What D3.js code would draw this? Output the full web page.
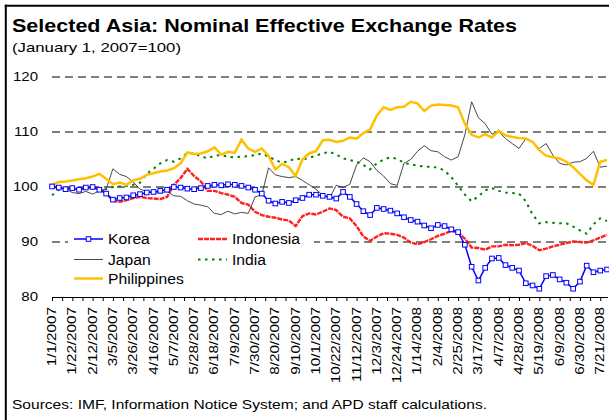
<!DOCTYPE html>
<html><head><meta charset="utf-8">
<script src="https://cdn.jsdelivr.net/npm/d3@7"></script>
<style>
body{margin:0;background:#fff}
svg{display:block}
text{font-family:"Liberation Sans",Arial,Helvetica,sans-serif;fill:#000}
</style>
</head><body>
<svg id="c" width="609" height="420"></svg>
<script>
// ---- data (weekly readings, week 0 = 1/1/2007) ----
const tickLabels = ["1/1/2007","1/22/2007","2/12/2007","3/5/2007","3/26/2007","4/16/2007","5/7/2007","5/28/2007","6/18/2007","7/9/2007","7/30/2007","8/20/2007","9/10/2007","10/1/2007","10/22/2007","11/12/2007","12/3/2007","12/24/2007","1/14/2008","2/4/2008","2/25/2008","3/17/2008","4/7/2008","4/28/2008","5/19/2008","6/9/2008","6/30/2008","7/21/2008"];
const yTicks = [80, 90, 100, 110, 120];

const korea = [100.1,99.9,99.6,99.8,99.5,99.9,100.0,99.5,98.8,97.7,
98.0,98.1,98.5,98.7,99.0,99.1,99.3,99.5,100.0,99.9,
99.7,99.6,99.8,100.2,100.4,100.3,100.5,100.4,100.2,99.9,
99.5,98.8,97.5,97.0,97.3,97.1,97.6,98.0,98.6,98.6,
98.4,98.2,97.9,99.1,98.2,96.9,95.6,94.9,96.2,96.0,
95.7,95.2,94.5,94.0,93.7,93.0,92.5,93.1,92.9,92.3,
91.8,89.5,85.5,83.0,85.3,87.0,87.1,85.8,85.3,84.8,
82.5,82.1,81.5,83.8,84.0,83.2,82.6,81.5,82.8,85.7,
84.5,84.8,85.0];

const indonesia = [100.1,99.9,99.8,99.5,99.6,99.8,100.0,99.7,98.9,97.5,
97.3,97.6,98.0,98.2,98.0,97.9,97.8,98.2,100.4,101.6,
103.3,102.0,101.0,99.3,99.3,98.9,98.6,98.2,97.1,96.8,
95.5,94.9,94.6,94.4,94.1,93.9,92.9,94.7,95.2,95.0,
95.5,96.1,95.8,94.6,94.3,92.9,91.0,90.2,91.0,91.6,
91.5,91.3,90.8,89.9,89.6,90.0,90.5,91.1,91.5,92.0,
91.8,90.6,89.0,88.9,88.6,89.2,89.2,89.5,89.4,89.5,
89.8,89.3,88.5,88.8,89.2,89.5,89.8,90.1,90.0,89.9,
90.3,90.8,91.3];

const japan = [100.0,99.8,99.6,99.0,98.8,99.2,98.7,99.3,99.6,103.3,
102.3,101.9,100.9,99.6,99.2,99.0,98.9,99.2,98.4,98.3,
97.5,96.9,96.7,96.4,95.2,95.0,95.6,95.1,95.4,95.2,
98.2,98.6,103.5,102.2,101.9,101.7,101.9,101.2,100.4,99.6,
98.5,98.0,100.3,99.9,100.5,104.0,105.3,104.6,103.0,102.0,
100.6,100.3,104.3,105.0,106.5,107.5,106.6,106.4,105.5,104.9,
105.5,109.5,115.5,112.6,111.5,109.6,110.1,108.8,107.9,107.0,
108.8,108.2,107.0,107.9,105.8,104.3,104.0,104.5,104.6,105.2,
106.5,103.6,103.8];

const india = [98.5,99.5,99.9,99.6,99.8,99.7,100.0,99.5,99.6,100.0,
100.1,100.2,100.4,100.8,102.4,103.3,104.3,104.9,104.6,105.2,
106.2,106.1,105.6,105.2,105.7,105.8,105.5,105.4,105.5,105.6,
105.8,106.1,105.5,104.9,104.4,104.7,105.2,105.0,105.3,105.7,
106.1,106.4,105.9,105.2,104.9,104.6,104.0,103.2,104.3,105.0,
105.4,105.1,104.4,104.1,103.9,103.7,103.7,103.5,103.0,101.8,
100.2,98.6,97.4,98.3,99.4,99.8,99.3,99.0,98.9,98.8,
97.4,95.0,93.4,93.6,93.5,93.4,93.4,92.8,92.1,91.5,
93.2,94.3,93.8];

const philippines = [100.4,100.9,101.0,101.2,101.4,101.6,101.9,102.4,101.5,100.5,
100.8,100.4,101.2,101.5,102.2,102.5,102.8,103.0,103.4,104.3,
106.3,106.0,106.1,106.5,107.2,105.9,106.4,106.2,108.6,107.0,
106.4,107.0,105.6,103.2,104.2,103.6,102.0,105.0,106.1,106.5,
108.5,108.6,108.2,108.4,109.0,108.8,109.8,110.5,113.0,114.5,
114.0,114.5,114.6,115.5,115.2,113.8,114.8,115.0,114.9,114.8,
114.5,111.5,109.5,109.0,109.6,109.0,110.2,109.4,109.1,108.9,
108.8,108.2,106.7,105.7,105.4,105.2,104.6,103.6,102.4,101.2,
100.4,104.6,104.9];

const seriesNames = ["Korea","Indonesia","Japan","India","Philippines"];

// ---- layout ----
const svg = d3.select("#c");
const weeksPerLabel = 3;
const x = d3.scaleLinear().domain([0, korea.length - 1]).range([52, 607]);
const y = d3.scaleLinear().domain([80, 120]).range([297, 77]);

function stretch(sel, k){
  sel.each(function(){
    const l = this.getComputedTextLength();
    this.setAttribute("textLength", (l*k).toFixed(1));
    this.setAttribute("lengthAdjust","spacingAndGlyphs");
  });
}
function fitTo(sel, w){
  sel.attr("textLength", w).attr("lengthAdjust","spacingAndGlyphs");
}

// border
svg.append("line").attr("x1",5.8).attr("x2",5.8).attr("y1",4.8).attr("y2",420)
  .attr("stroke","#000").attr("stroke-width",2);
svg.append("line").attr("x1",4.8).attr("x2",609).attr("y1",5.8).attr("y2",5.8)
  .attr("stroke","#000").attr("stroke-width",2);

// title
fitTo(svg.append("text").attr("x",12).attr("y",32).attr("font-size",19).attr("font-weight","bold")
  .text("Selected Asia: Nominal Effective Exchange Rates"), 505);
fitTo(svg.append("text").attr("x",12).attr("y",52).attr("font-size",13)
  .text("(January 1, 2007=100)"), 169);
fitTo(svg.append("text").attr("x",12).attr("y",409).attr("font-size",13.5)
  .text("Sources: IMF, Information Notice System; and APD staff calculations."), 475);

// gridlines
svg.append("g").selectAll("line").data(yTicks.filter(v => v > 80)).join("line")
  .attr("x1",52).attr("x2",608).attr("y1",d=>y(d)).attr("y2",d=>y(d))
  .attr("stroke","#000").attr("stroke-width",1).attr("stroke-dasharray","8,5");

// y labels
const yAxis = svg.append("g").attr("transform","translate(52,0)")
  .call(d3.axisLeft(y).tickValues(yTicks).tickSize(0).tickPadding(14));
yAxis.select(".domain").remove();
yAxis.attr("font-family",null);
yAxis.selectAll("text").attr("font-size",12).attr("fill","#000");
stretch(yAxis.selectAll("text"), 1.25);

// lines
const line = d3.line().x((d,i)=>x(i)).y(d=>y(d));
const plot = svg.append("g");
plot.append("path").datum(indonesia).attr("d",line).attr("fill","none")
  .attr("stroke","#ff2020").attr("stroke-width",2.4).attr("stroke-dasharray","5,1");
plot.append("path").datum(japan).attr("d",line).attr("fill","none")
  .attr("stroke","#333").attr("stroke-width",0.9);
plot.append("path").datum(india).attr("d",line).attr("fill","none")
  .attr("stroke","#008000").attr("stroke-width",2).attr("stroke-dasharray","2.5,4.5");
plot.append("path").datum(philippines).attr("d",line).attr("fill","none")
  .attr("stroke","#ffc000").attr("stroke-width",2.5);
plot.append("path").datum(korea).attr("d",line).attr("fill","none")
  .attr("stroke","#0000ff").attr("stroke-width",1.5);
plot.append("g").selectAll("rect").data(korea).join("rect")
  .attr("x",(d,i)=>x(i)-2.3).attr("y",d=>y(d)-2.3).attr("width",4.6).attr("height",4.6)
  .attr("fill","#fff").attr("stroke","#0000ff").attr("stroke-width",1);

// x axis
const xAxis = svg.append("g").attr("transform","translate(0,297)")
  .call(d3.axisBottom(x).tickValues(d3.range(0, korea.length - 1, weeksPerLabel/2))
    .tickSize(4).tickSizeOuter(0).tickFormat(""));
xAxis.selectAll("line,path").attr("stroke","#000");
xAxis.select(".domain").attr("d","M52,0.5H608");

const xl = svg.append("g").selectAll("text").data(tickLabels).join("text")
  .attr("transform",(d,i)=>`translate(${x(i*weeksPerLabel)+4},307) rotate(-90)`)
  .attr("text-anchor","end").attr("font-size",12).text(d=>d);
stretch(xl, 1.27);

// legend
const lg = svg.append("g");
lg.append("rect").attr("x",68).attr("y",228).attr("width",246).attr("height",62).attr("fill","#fff");
const items = [
  {name:seriesNames[0], x:74, y:239, color:"#0000ff", w:1.5, dash:null, marker:true},
  {name:seriesNames[1], x:198, y:239, color:"#ff2020", w:2.4, dash:"5,1"},
  {name:seriesNames[2], x:74, y:259.5, color:"#333", w:0.9, dash:null},
  {name:seriesNames[3], x:198, y:259.5, color:"#008000", w:2, dash:"2.5,4.5"},
  {name:seriesNames[4], x:74, y:278.5, color:"#ffc000", w:2.5, dash:null}
];
items.forEach(it=>{
  lg.append("line").attr("x1",it.x).attr("x2",it.x+29).attr("y1",it.y).attr("y2",it.y)
    .attr("stroke",it.color).attr("stroke-width",it.w).attr("stroke-dasharray",it.dash);
  if(it.marker){
    lg.append("rect").attr("x",it.x+14.5-2.3).attr("y",it.y-2.3).attr("width",4.6).attr("height",4.6)
      .attr("fill","#fff").attr("stroke",it.color).attr("stroke-width",1);
  }
  const t = lg.append("text").attr("x",it.x+34).attr("y",it.y+5).attr("font-size",14).text(it.name);
  stretch(t, 1.12);
});
</script>
</body></html>
